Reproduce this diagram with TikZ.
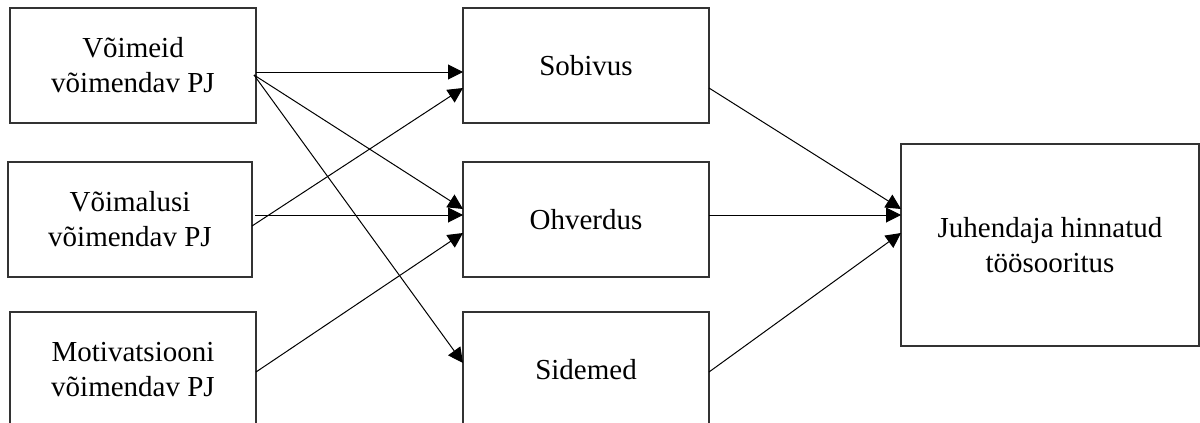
\documentclass[tikz,border=0pt]{standalone}
\usepackage{fontspec}
\setmainfont{Liberation Serif}
\usetikzlibrary{arrows.meta}
\begin{document}
\begin{tikzpicture}[x=1pt,y=-1pt,
  box/.style={draw=black!80,line width=1.3pt,rectangle,inner sep=0pt,outer sep=0pt,
    anchor=north west,minimum height=115pt,minimum width=246pt,align=center,
    font=\fontsize{29}{35}\selectfont},
  conn/.style={draw=black,line width=1pt,-{Triangle[length=15pt,width=15pt]}}]
\useasboundingbox (0,0) rectangle (1200,423);
\node[box] (A) at (10,8) {Võimeid\\võimendav PJ};
\node[box,minimum width=244pt] (B) at (8,162) {Võimalusi\\võimendav PJ};
\node[box] (C) at (10,312) {Motivatsiooni\\võimendav PJ};
\node[box] (sob) at (463,8) {Sobivus};
\node[box] (ohv) at (463,162) {Ohverdus};
\node[box] (sid) at (463,312) {Sidemed};
\node[box,minimum width=298pt,minimum height=202pt] (jh) at (901,144) {Juhendaja hinnatud\\töösooritus};
% exit points
\coordinate (Ah) at ([yshift=-64pt]A.north east);
\coordinate (Ad) at ([xshift=-2pt,yshift=-67pt]A.north east);
\coordinate (Bh) at ([xshift=3pt,yshift=-53pt]B.north east);
\coordinate (Bd) at ([yshift=-64pt]B.north east);
\coordinate (Cd) at ([yshift=-60pt]C.north east);
\coordinate (sobO) at ([yshift=-80pt]sob.north east);
\coordinate (ohvO) at ([yshift=-53pt]ohv.north east);
\coordinate (sidO) at ([yshift=-60pt]sid.north east);
% entry points
\coordinate (sobI1) at ([yshift=-64pt]sob.north west);
\coordinate (sobI2) at ([yshift=-80pt]sob.north west);
\coordinate (ohvI1) at ([yshift=-47pt]ohv.north west);
\coordinate (ohvI2) at ([yshift=-53pt]ohv.north west);
\coordinate (ohvI3) at ([yshift=-71pt]ohv.north west);
\coordinate (sidI) at ([yshift=-51pt]sid.north west);
\coordinate (jhI1) at ([yshift=-65pt]jh.north west);
\coordinate (jhI2) at ([yshift=-71pt]jh.north west);
\coordinate (jhI3) at ([yshift=-89pt]jh.north west);
% connectors
\draw[conn] (Ah) -- (sobI1);
\draw[conn] (Ad) -- (ohvI1);
\draw[conn] (Ad) -- (sidI);
\draw[conn] (Bd) -- (sobI2);
\draw[conn] (Bh) -- (ohvI2);
\draw[conn] (Cd) -- (ohvI3);
\draw[conn] (sobO) -- (jhI1);
\draw[conn] (ohvO) -- (jhI2);
\draw[conn] (sidO) -- (jhI3);
\end{tikzpicture}
\end{document}
